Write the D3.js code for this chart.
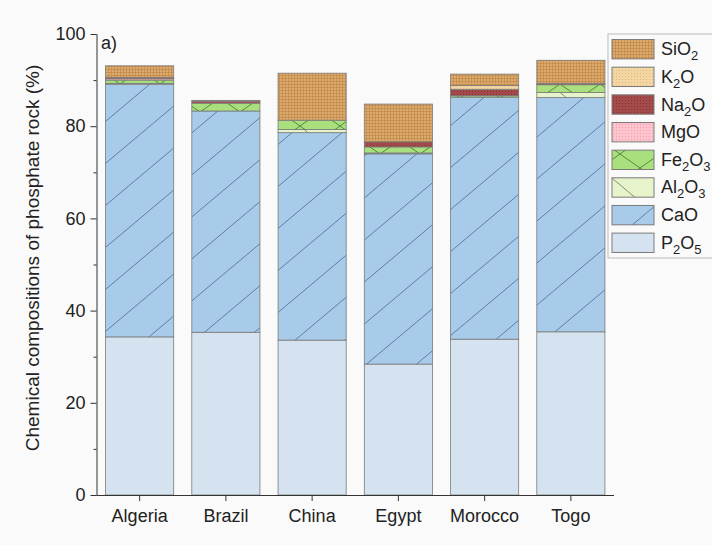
<!DOCTYPE html>
<html><head><meta charset="utf-8">
<script src="https://cdn.jsdelivr.net/npm/d3@7"></script>
<style>
html,body{margin:0;padding:0;background:#fafafa;}
text{font-family:"Liberation Sans",Arial,sans-serif;fill:#222;}
</style></head>
<body><svg id="c" width="712" height="545"></svg>
<script>
const categories = ["Algeria","Brazil","China","Egypt","Morocco","Togo"];
const P2O5  = [34.3, 35.3, 33.6, 28.4, 33.8, 35.4];
const CaO   = [54.8, 48.0, 45.0, 45.6, 52.5, 50.8];
const Al2O3 = [0.2, 0.0, 0.7, 0.2, 0.0, 1.1];
const Fe2O3 = [0.7, 1.7, 2.0, 1.3, 0.3, 1.7];
const MgO   = [0.3, 0.0, 0.0, 0.0, 0.0, 0.0];
const Na2O  = [0.3, 0.4, 0.0, 1.1, 1.4, 0.3];
const K2O   = [0.0, 0.0, 0.0, 0.0, 0.8, 0.0];
const SiO2  = [2.5, 0.2, 10.2, 8.2, 2.5, 5.0];
const yTicks = [0, 20, 40, 60, 80, 100];

const seriesNames = ["P2O5","CaO","Al2O3","Fe2O3","MgO","Na2O","K2O","SiO2"];
const seriesVals = [P2O5, CaO, Al2O3, Fe2O3, MgO, Na2O, K2O, SiO2];
const labelParts = {
  P2O5:[["P",0],["2",1],["O",0],["5",1]],
  CaO:[["CaO",0]],
  Al2O3:[["Al",0],["2",1],["O",0],["3",1]],
  Fe2O3:[["Fe",0],["2",1],["O",0],["3",1]],
  MgO:[["MgO",0]],
  Na2O:[["Na",0],["2",1],["O",0]],
  K2O:[["K",0],["2",1],["O",0]],
  SiO2:[["SiO",0],["2",1]]
};

const svg = d3.select("#c");
const defs = svg.append("defs");

function pat(id, w, h, bg, draw){
  const p = defs.append("pattern").attr("id", id).attr("patternUnits","userSpaceOnUse")
    .attr("width", w).attr("height", h);
  p.append("rect").attr("width", w).attr("height", h).attr("fill", bg);
  if (draw) draw(p);
}
pat("pP2O5", 10, 10, "#d5e3f1");
pat("pCaO", 50, 42, "#a8cbe9", p => {
  p.append("path").attr("d","M0,42 L50,0").attr("stroke","#56749e").attr("stroke-width",0.9).attr("fill","none");
});
pat("pAl2O3", 50, 42, "#e7f4cb", p => {
  p.append("path").attr("d","M0,0 L50,42").attr("stroke","#78865e").attr("stroke-width",0.9).attr("fill","none");
});
pat("pFe2O3", 40, 28, "#a9e07d", p => {
  p.append("path").attr("d","M0,0 L40,28 M0,28 L40,0").attr("stroke","#45803a").attr("stroke-width",0.9).attr("fill","none");
});
pat("pMgO", 3, 3, "#ffc3cd", p => {
  p.append("rect").attr("x",1).attr("y",1).attr("width",1).attr("height",1).attr("fill","#eaa0aa");
});
pat("pNa2O", 3, 3, "#a44a4a", p => {
  p.append("rect").attr("x",1).attr("y",1).attr("width",1).attr("height",1).attr("fill","#853434");
});
pat("pK2O", 3, 3, "#f4d6a2", p => {
  p.append("rect").attr("x",1).attr("y",1).attr("width",1).attr("height",1).attr("fill","#dcb985");
});
pat("pSiO2", 3, 3, "#dcaa6c", p => {
  p.append("rect").attr("x",0).attr("y",0).attr("width",3).attr("height",1).attr("fill","#bb8444").attr("opacity",0.6);
  p.append("rect").attr("x",0).attr("y",0).attr("width",1).attr("height",3).attr("fill","#bb8444").attr("opacity",0.6);
});

const x = d3.scaleBand().domain(categories).range([96.5, 614]).paddingInner(0.21).paddingOuter(0.105);
const y = d3.scaleLinear().domain([0, 100]).range([495, 34]);

const rows = categories.map((c, i) => {
  const r = {cat: c};
  seriesNames.forEach((s, k) => r[s] = seriesVals[k][i]);
  return r;
});
const stacked = d3.stack().keys(seriesNames)(rows);

const g = svg.append("g");
stacked.forEach(layer => {
  g.append("g").selectAll("rect").data(layer).join("rect")
    .attr("x", d => x(d.data.cat))
    .attr("width", x.bandwidth())
    .attr("y", d => y(d[1]))
    .attr("height", d => Math.max(0, y(d[0]) - y(d[1])))
    .attr("fill", "url(#p" + layer.key + ")")
    .attr("stroke", d => (d[1]-d[0]) > 0 ? "#7a7a7a" : "none")
    .attr("stroke-width", 0.8);
});

const axisColor = "#333";
const yAxis = svg.append("g").attr("transform", "translate(96.5,0)")
  .call(d3.axisLeft(y).tickValues(yTicks).tickSize(6).tickPadding(5).tickFormat(d3.format("d")));
const yMinor = svg.append("g").attr("transform", "translate(96.5,0)")
  .call(d3.axisLeft(y).tickValues([10,30,50,70,90]).tickSize(3).tickFormat(""));
yMinor.select(".domain").remove();
const xAxis = svg.append("g").attr("transform", "translate(0,495)")
  .call(d3.axisBottom(x).tickSize(6).tickPadding(8).tickSizeOuter(0));
xAxis.select(".domain").attr("d", "M96.5,0.5H614");
[yAxis, yMinor, xAxis].forEach(a => {
  a.selectAll("path,line").attr("stroke", axisColor).attr("stroke-width", 1);
  a.selectAll("text").style("font-size", "18px").attr("fill", "#222");
});
yAxis.select(".domain").attr("d", "M0.5,34V495.5");

svg.append("text").attr("x", 101).attr("y", 49).style("font-size", "18px").text("a)");

svg.append("text")
  .attr("transform", "translate(39,258) rotate(-90)")
  .attr("text-anchor", "middle")
  .style("font-size", "19px")
  .text("Chemical compositions of phosphate rock (%)");

const legendOrder = seriesNames.slice().reverse();
const lg = svg.append("g");
lg.append("rect").attr("x", 608).attr("y", 34).attr("width", 110).attr("height", 224)
  .attr("fill", "#fafafa").attr("stroke", "#bbb").attr("stroke-width", 1);
const ls = d3.scaleBand().domain(legendOrder).range([34, 258]).paddingInner(0.3).paddingOuter(0.2);
legendOrder.forEach(name => {
  const yy = ls(name);
  lg.append("rect").attr("x", 612).attr("y", yy).attr("width", 42).attr("height", ls.bandwidth())
    .attr("fill", "url(#p" + name + ")").attr("stroke", "#7a7a7a").attr("stroke-width", 1);
  const t = lg.append("text").attr("x", 661).attr("y", yy + ls.bandwidth()/2 + 6).style("font-size", "18px");
  let sub = false;
  labelParts[name].forEach(([s, isSub]) => {
    const ts = t.append("tspan").text(s);
    if (isSub && !sub) { ts.attr("dy", 5).style("font-size", "13px"); sub = true; }
    else if (!isSub && sub) { ts.attr("dy", -5); sub = false; }
    else if (isSub) { ts.style("font-size", "13px"); }
  });
});
</script></body></html>
